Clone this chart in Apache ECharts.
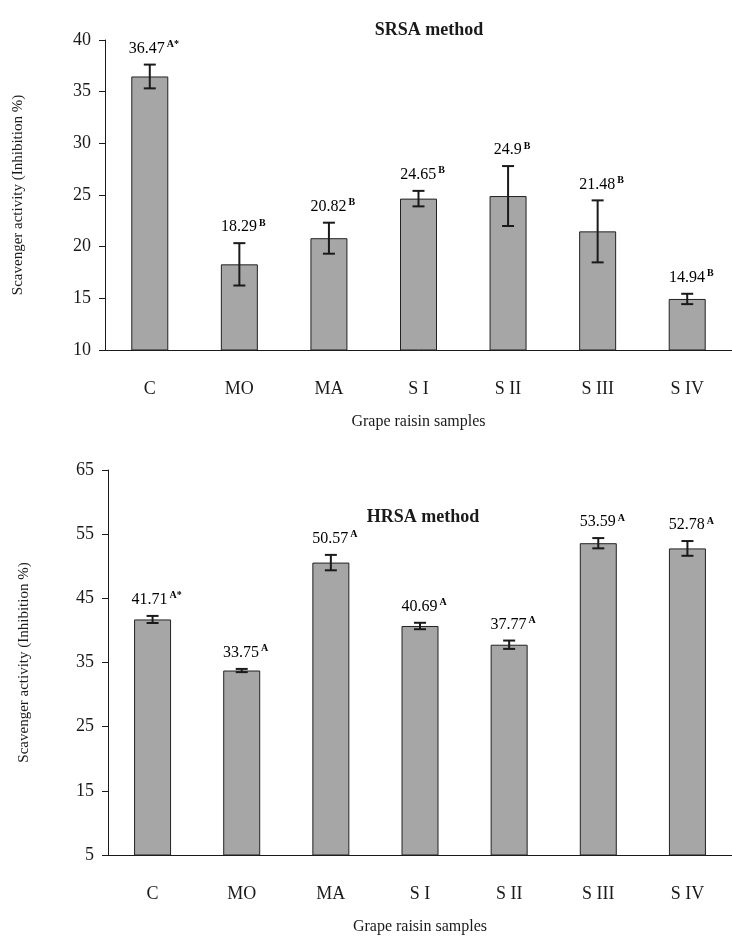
<!DOCTYPE html>
<html>
<head>
<meta charset="utf-8">
<script src="https://cdn.jsdelivr.net/npm/echarts@6/dist/echarts.min.js"></script>
<style>
  html, body { margin: 0; padding: 0; background: #fff; }
  #chart { width: 732px; height: 936px; }
</style>
</head>
<body>
<div id="chart"></div>
<script>
// samples on the x axis (same for both panels)
const categories = ['C', 'MO', 'MA', 'S I', 'S II', 'S III', 'S IV']

// SRSA method (top panel)
const srsaValues = [36.47, 18.29, 20.82, 24.65, 24.9, 21.48, 14.94]
const srsaErrors = [1.15, 2.05, 1.5, 0.75, 2.9, 3.0, 0.5]
const srsaLetters = ['A*', 'B', 'B', 'B', 'B', 'B', 'B']
const srsaTicks = [10, 40, 5] // min, max, step

// HRSA method (bottom panel)
const hrsaValues = [41.71, 33.75, 50.57, 40.69, 37.77, 53.59, 52.78]
const hrsaErrors = [0.55, 0.25, 1.2, 0.5, 0.65, 0.8, 1.15]
const hrsaLetters = ['A*', 'A', 'A', 'A', 'A', 'A', 'A']
const hrsaTicks = [5, 65, 10]

const serif = 'Liberation Serif'
const ink = '#1a1a1a'

function errorData(values, errors, letters) {
  return values.map((v, i) => [i, v - errors[i], v + errors[i], v, letters[i]])
}

// error bar + value label drawn above the upper cap
function renderError(params, api) {
  const lo = api.coord([api.value(0), api.value(1)])
  const hi = api.coord([api.value(0), api.value(2)])
  const cap = 6
  const style = { stroke: ink, lineWidth: 2 }
  return {
    type: 'group',
    children: [
      { type: 'line', shape: { x1: hi[0], y1: hi[1], x2: lo[0], y2: lo[1] }, style },
      { type: 'line', shape: { x1: hi[0] - cap, y1: hi[1], x2: hi[0] + cap, y2: hi[1] }, style },
      { type: 'line', shape: { x1: lo[0] - cap, y1: lo[1], x2: lo[0] + cap, y2: lo[1] }, style },
      {
        type: 'text',
        x: hi[0] + 4,
        y: hi[1] - 16,
        style: {
          text: '{v|' + api.value(3) + '}{s|' + api.value(4) + '}',
          align: 'center',
          verticalAlign: 'middle',
          rich: {
            v: { fontFamily: serif, fontSize: 16, color: '#222', lineHeight: 18 },
            s: { fontFamily: serif, fontSize: 10, color: '#222', lineHeight: 10,
                 verticalAlign: 'top', padding: [0, 0, 0, 2], fontWeight: 'bold' }
          }
        }
      }
    ]
  }
}

function xAxisFor(gridIndex) {
  return {
    type: 'category',
    gridIndex: gridIndex,
    data: categories,
    name: 'Grape raisin samples',
    nameLocation: 'middle',
    nameGap: 64,
    nameTextStyle: { fontFamily: serif, fontSize: 16, color: ink },
    axisLine: { lineStyle: { color: ink, width: 1 } },
    axisTick: { show: false },
    axisLabel: { fontFamily: serif, fontSize: 18, color: ink, margin: 30 }
  }
}

function yAxisFor(gridIndex, ticks, gap) {
  return {
    type: 'value',
    gridIndex: gridIndex,
    min: ticks[0],
    max: ticks[1],
    interval: ticks[2],
    name: 'Scavenger activity (Inhibition %)',
    nameLocation: 'middle',
    nameGap: gap,
    nameTextStyle: { fontFamily: serif, fontSize: 15, color: ink },
    splitLine: { show: false },
    axisLine: { show: true, lineStyle: { color: ink, width: 1 } },
    axisTick: { show: true, length: 6, lineStyle: { color: ink } },
    axisLabel: { fontFamily: serif, fontSize: 18, color: ink, margin: 14 }
  }
}

function barSeries(idx, values) {
  return {
    type: 'bar',
    xAxisIndex: idx,
    yAxisIndex: idx,
    data: values,
    barWidth: 37,
    itemStyle: { color: '#a6a6a6', borderColor: '#222', borderWidth: 1 },
    silent: true,
    animation: false
  }
}

const chart = echarts.init(document.getElementById('chart'))
chart.setOption({
  backgroundColor: '#fff',
  animation: false,
  title: [
    { text: 'SRSA method', left: 424, top: 16, textAlign: 'center',
      textStyle: { fontFamily: serif, fontSize: 18, fontWeight: 'bold', color: ink } },
    { text: 'HRSA method', left: 418, top: 503, textAlign: 'center',
      textStyle: { fontFamily: serif, fontSize: 18, fontWeight: 'bold', color: ink } }
  ],
  grid: [
    { left: 105, top: 40, width: 638, height: 310 },
    { left: 108, top: 470, width: 638, height: 385 }
  ],
  xAxis: [xAxisFor(0), xAxisFor(1)],
  yAxis: [yAxisFor(0, srsaTicks, 79), yAxisFor(1, hrsaTicks, 76)],
  series: [
    barSeries(0, srsaValues),
    barSeries(1, hrsaValues),
    {
      type: 'custom', xAxisIndex: 0, yAxisIndex: 0,
      data: errorData(srsaValues, srsaErrors, srsaLetters),
      renderItem: renderError, clip: false, silent: true, z: 5
    },
    {
      type: 'custom', xAxisIndex: 1, yAxisIndex: 1,
      data: errorData(hrsaValues, hrsaErrors, hrsaLetters),
      renderItem: renderError, clip: false, silent: true, z: 5
    }
  ]
})
</script>
</body>
</html>
